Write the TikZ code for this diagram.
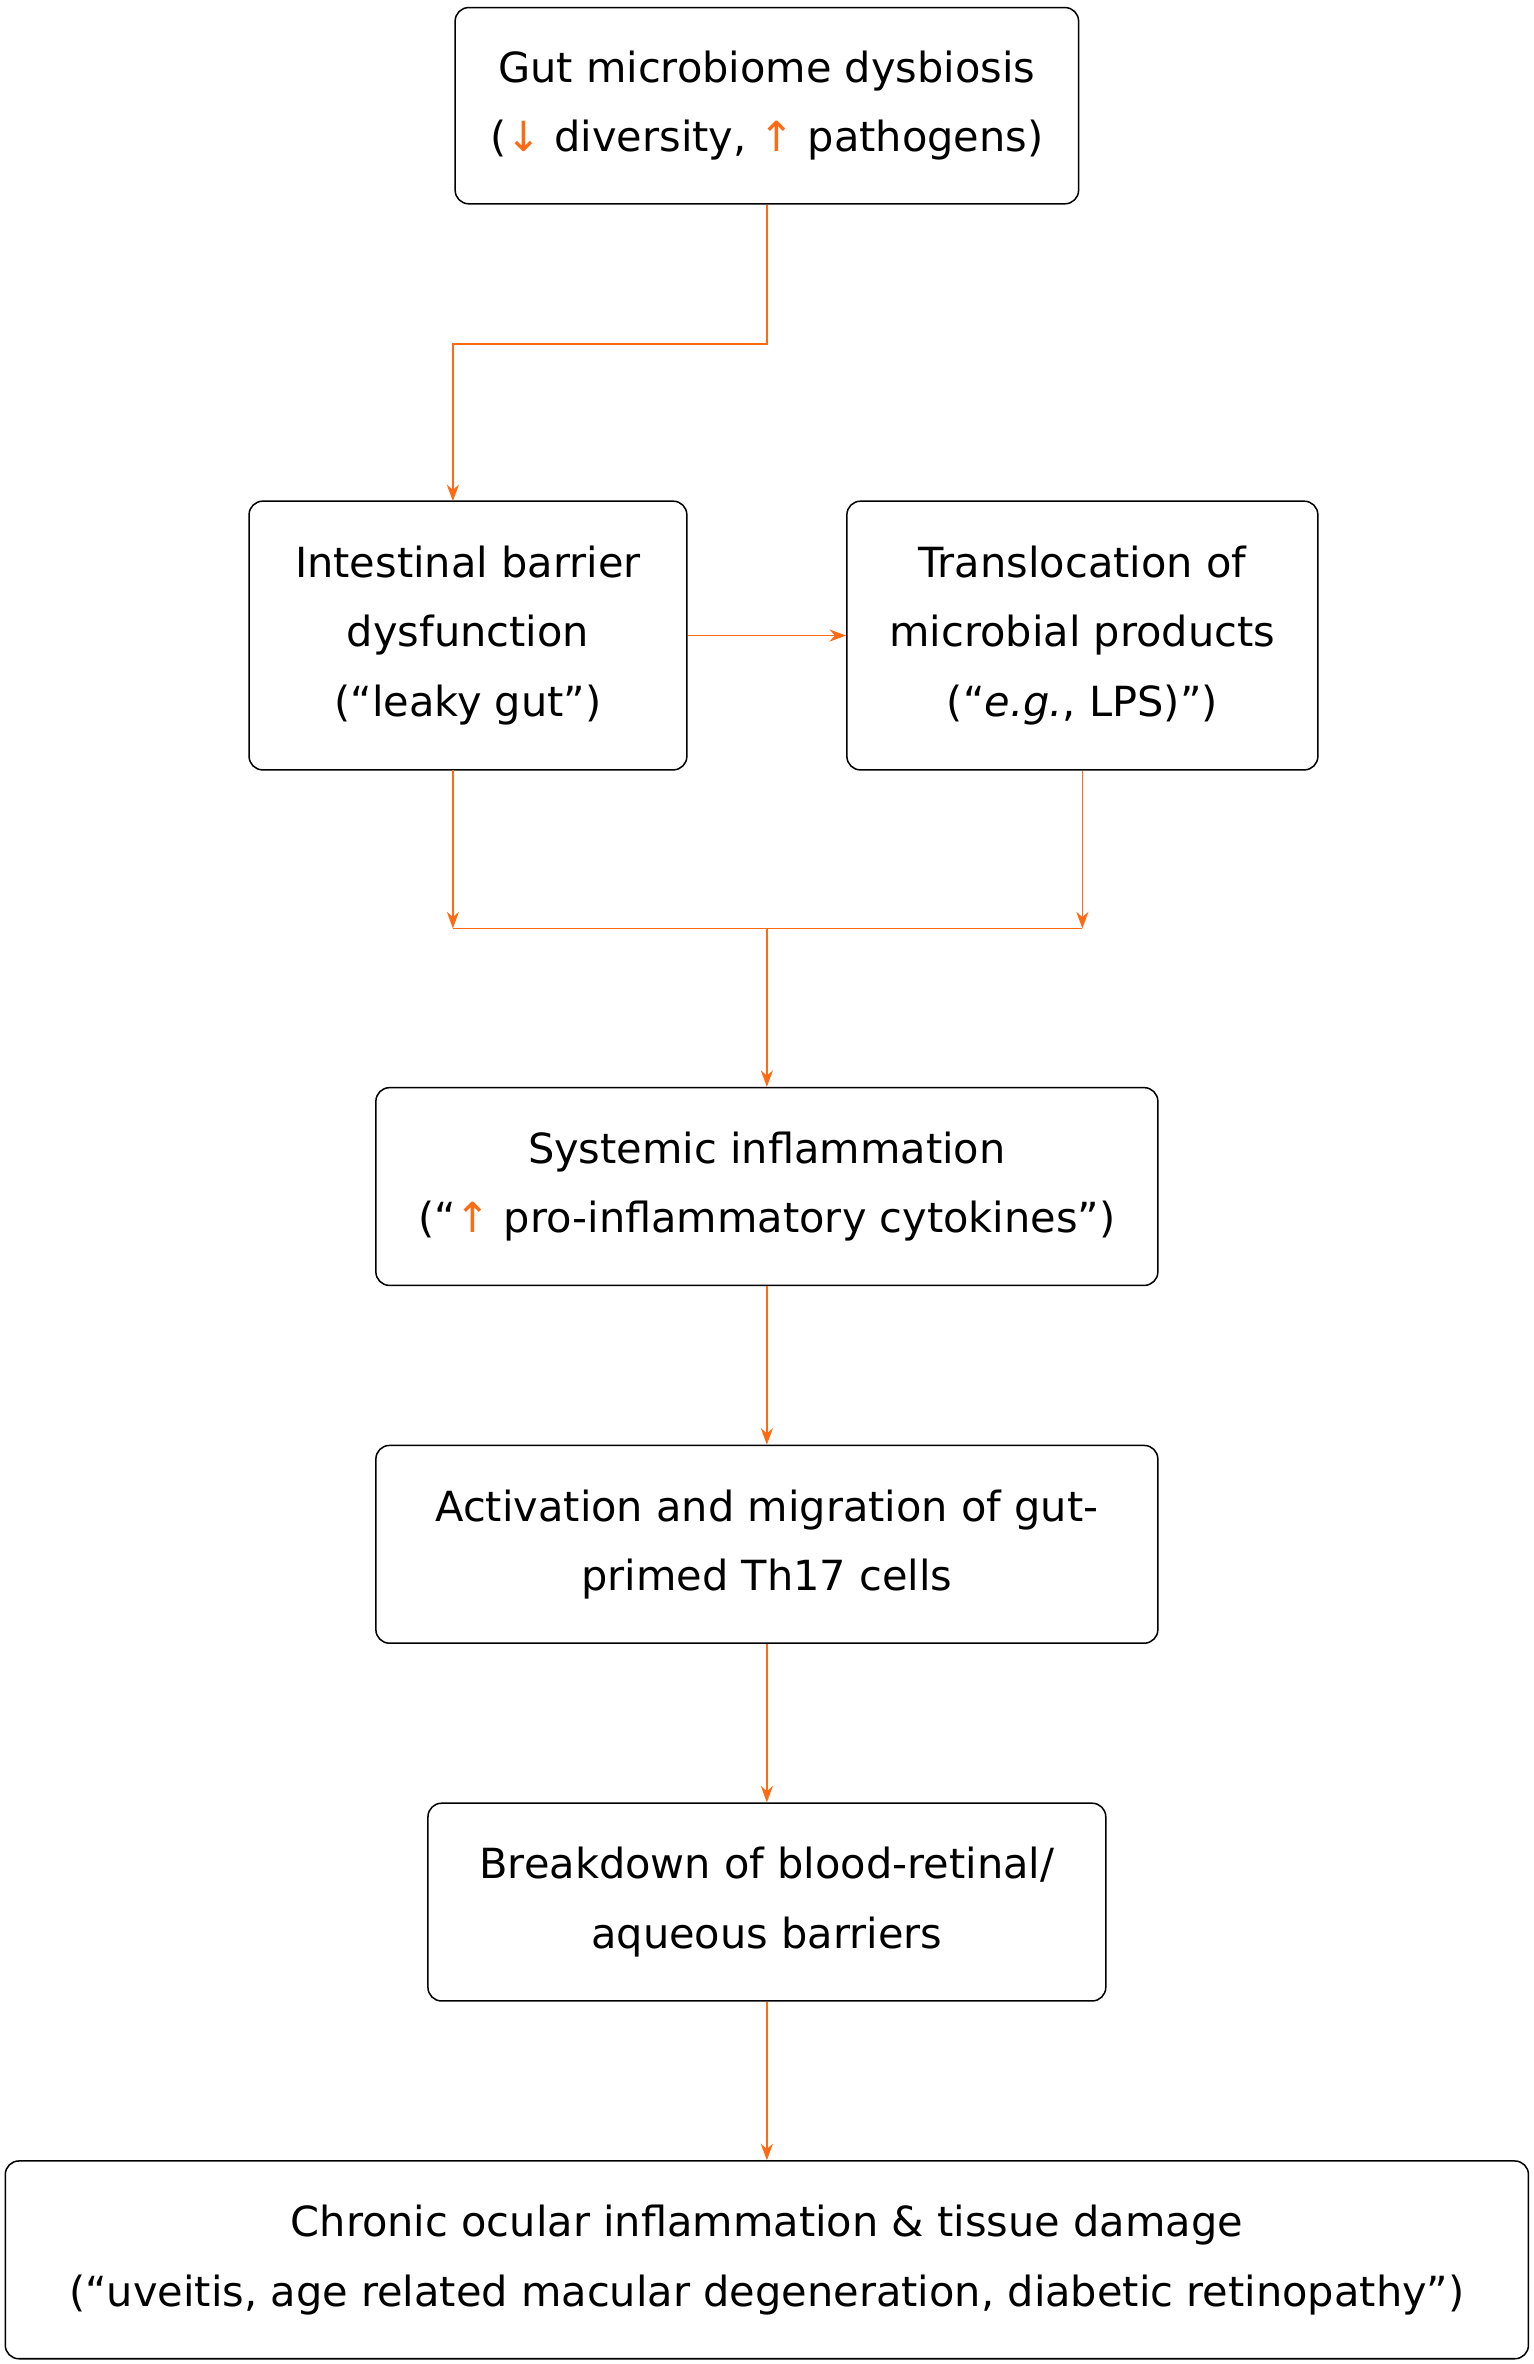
\documentclass[tikz,border=0pt]{standalone}
\usepackage{fontspec}
\setmainfont{DejaVu Sans}
\usetikzlibrary{arrows.meta}
\definecolor{flow}{HTML}{FF6A13}
\tikzset{
  box/.style={draw, rounded corners=9pt, align=center, line width=1pt,
    font=\fontsize{27.5}{46}\selectfont, inner sep=0pt},
  link/.style={draw=flow, line width=1pt, -{Stealth[length=11pt,width=8pt]}},
}
\newcommand{\up}{\textcolor{flow}{↑}}
\newcommand{\down}{\textcolor{flow}{↓}}
\begin{document}
\begin{tikzpicture}[x=1pt,y=-1pt]
  \useasboundingbox (0,0) rectangle (1016,1566);
  % boxes
  \node[box, minimum width=413pt, minimum height=130pt] (dys) at (508,70)
    {Gut microbiome dysbiosis\\(\down{} diversity, \up{} pathogens)};
  \node[box, minimum width=290pt, minimum height=178pt] (bar) at (310,421)
    {Intestinal barrier\\dysfunction\\(“leaky gut”)};
  \node[box, minimum width=312pt, minimum height=178pt] (trans) at (717,421)
    {Translocation of\\microbial products\\(“\textit{e.g.}, LPS)”)};
  \node[box, minimum width=518pt, minimum height=131pt] (sys) at (508,786)
    {Systemic inflammation\\(“\up{} pro-inflammatory cytokines”)};
  \node[box, minimum width=518pt, minimum height=131pt] (act) at (508,1023)
    {Activation and migration of gut-\\primed Th17 cells};
  \node[box, minimum width=449pt, minimum height=131pt] (brk) at (508,1260)
    {Breakdown of blood-retinal/\\aqueous barriers};
  \node[box, minimum width=1009pt, minimum height=131pt] (chr) at (508,1497)
    {Chronic ocular inflammation \& tissue damage\\(“uveitis, age related macular degeneration, diabetic retinopathy”)};

  % connectors
  \coordinate (bend) at (508,228);
  \coordinate (jl) at (300,615);
  \coordinate (jr) at (717,615);
  \coordinate (jm) at (508,615);
  \draw[link] (dys.south) -- (bend) -| (300,332);
  \draw[link] (bar.east) -- (trans.west);
  \draw[link] (300,510) -- (jl);
  \draw[link] (trans.south) -- (jr);
  \draw[flow, line width=1pt] (jl) -- (jr);
  \draw[link] (jm) -- (sys.north);
  \draw[link] (sys.south) -- (act.north);
  \draw[link] (act.south) -- (brk.north);
  \draw[link] (brk.south) -- (chr.north);
\end{tikzpicture}
\end{document}
